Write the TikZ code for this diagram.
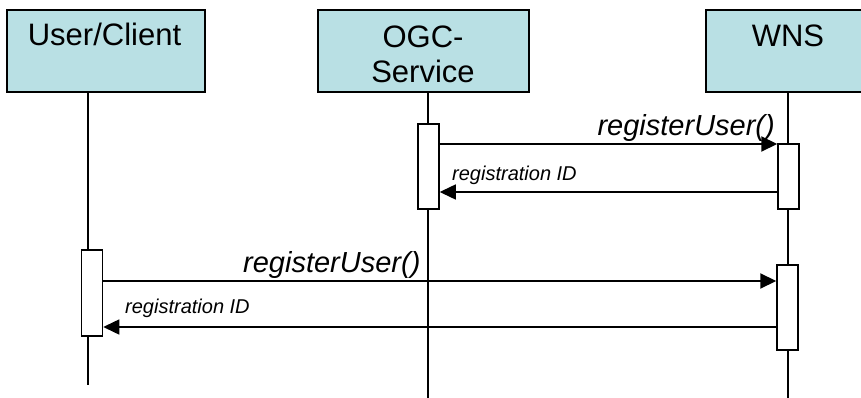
\documentclass[tikz,border=0pt]{standalone}
\usepackage{fontspec}
\setmainfont{Liberation Sans}
\usetikzlibrary{arrows.meta}
\definecolor{headfill}{RGB}{185,224,228}
\begin{document}
\begin{tikzpicture}[x=1pt,y=-1pt,
  header/.style={draw=black,line width=2pt,fill=headfill,minimum height=82pt,inner sep=0pt},
  headtext/.style={font=\fontsize{31}{35}\selectfont,inner sep=0pt,anchor=base},
  activation/.style={draw=black,line width=1.5pt,fill=white,minimum width=21pt,inner sep=0pt},
  lifeline/.style={line width=1.5pt},
  call/.style={line width=2pt,-{Triangle[length=16pt,width=15pt]}},
  reply/.style={line width=1.5pt,-{Triangle[length=16pt,width=15pt]}},
  biglabel/.style={font=\fontsize{29}{33}\selectfont\itshape,inner sep=0pt},
  smalllabel/.style={font=\fontsize{20}{24}\selectfont\itshape,inner sep=0pt}]
\useasboundingbox (0,0) rectangle (861,398);
\clip (0,0) rectangle (861,398);

% lifeline heads
\node[header,minimum width=198pt] (user) at (106,51) {};
\node[header,minimum width=211pt] (ogc) at (423.5,51) {};
\node[header,minimum width=164pt] (wns) at (788,51.5) {};
\node[headtext] (userT) at (104.5,46) {User/Client};
\node[headtext] (ogcT1) at (423,48) {OGC-};
\node[headtext] (ogcT2) at (423,83) {Service};
\node[headtext] (wnsT) at (788,47) {WNS};

% lifelines
\coordinate (userEnd) at (88,385);
\coordinate (ogcEnd) at (428,398);
\coordinate (wnsEnd) at (788,398);
\draw[lifeline] (userEnd |- user.south) -- (userEnd);
\draw[lifeline] (ogcEnd |- ogc.south) -- (ogcEnd);
\draw[lifeline] (wnsEnd |- wns.south) -- (wnsEnd);

% activation bars
\node[activation,minimum height=85pt] (ogcAct) at (428.5,166.5) {};
\node[activation,minimum height=65pt] (wnsAct1) at (788.5,176.5) {};
\node[activation,minimum height=86pt] (userAct) at (92,293) {};
\node[activation,minimum height=85pt] (wnsAct2) at (787.5,307.5) {};

% messages
\coordinate (m1) at (0,144);
\coordinate (r1) at (0,192);
\coordinate (m2) at (0,281);
\coordinate (r2) at (0,327);
\draw[call] (ogcAct.east |- m1) -- (wnsAct1.west |- m1);
\draw[reply] (wnsAct1.west |- r1) -- (ogcAct.east |- r1);
\draw[call] (userAct.east |- m2) -- (wnsAct2.west |- m2);
\draw[reply] (wnsAct2.west |- r2) -- (userAct.east |- r2);

\node[biglabel,anchor=base east] (m1L) at (775,136) {registerUser()};
\node[smalllabel,anchor=base west] (r1L) at (452,180) {registration ID};
\node[biglabel,anchor=base west] (m2L) at (243,272) {registerUser()};
\node[smalllabel,anchor=base west] (r2L) at (125,313) {registration ID};
\end{tikzpicture}
\end{document}
